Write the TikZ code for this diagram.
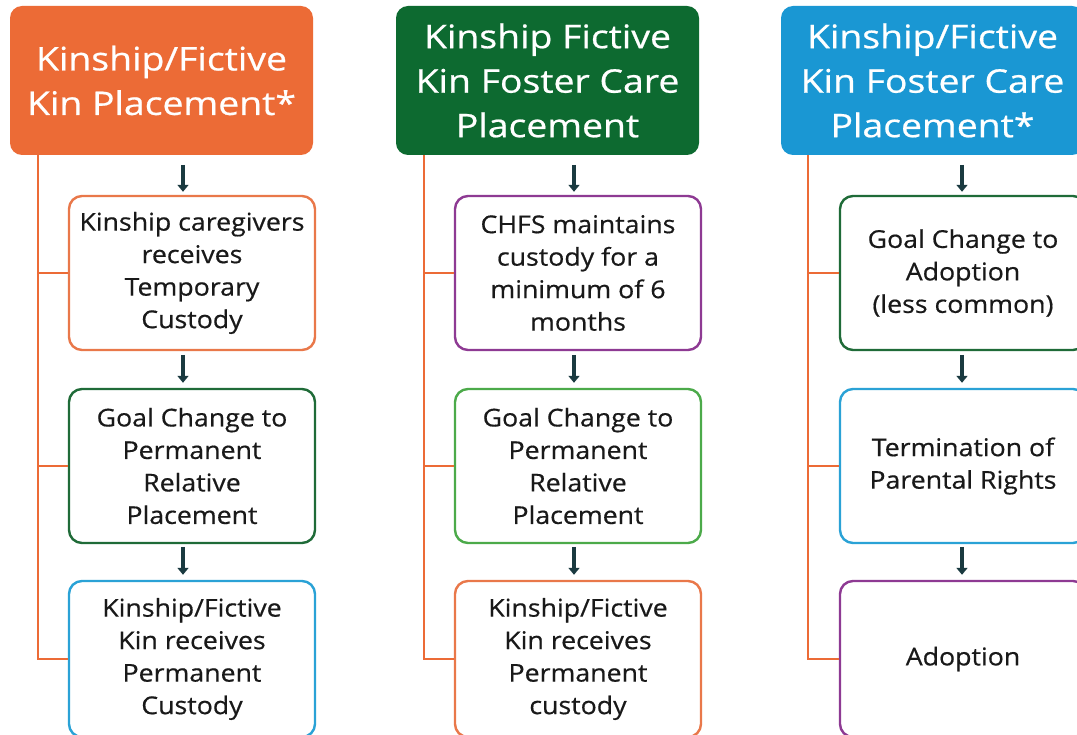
\documentclass[tikz,border=0pt]{standalone}
\usepackage{fontspec}
\setmainfont{Open Sans}
\newfontfamily\hfont{Open Sans}[FakeStretch=1.15, FakeBold=0.6]
\newfontfamily\bfont{Open Sans}[FakeStretch=1.09, FakeBold=0.5]
\usetikzlibrary{arrows.meta,calc}
\definecolor{horange}{HTML}{EC6B36}
\definecolor{hgreen}{HTML}{0D6A30}
\definecolor{hblue}{HTML}{1A97D3}
\definecolor{borange}{HTML}{E9784A}
\definecolor{bdgreen}{HTML}{1F6B38}
\definecolor{bblue}{HTML}{2AA2D6}
\definecolor{bpurple}{HTML}{8E3A93}
\definecolor{blgreen}{HTML}{4CAA4A}
\definecolor{arrowc}{HTML}{1A3A40}
\tikzset{
  header/.style={rounded corners=12pt, minimum width=303pt, minimum height=149pt, text=white, align=center,
    font=\hfont\fontsize{32.5}{44.5}\selectfont, inner sep=0pt},
  stepbox/.style={draw, line width=2.4pt, rounded corners=13pt, fill=white, minimum width=246pt, minimum height=154pt,
    align=center, font=\bfont\fontsize{24.5}{32.5}\selectfont, inner sep=0pt, text=black!90},
  tree/.style={draw=horange, line width=2.4pt},
  arr/.style={draw=arrowc, line width=3.6pt, -{Triangle[length=7pt,width=11pt]}}
}
\begin{document}
\begin{tikzpicture}[x=1pt,y=-1pt]
\useasboundingbox[fill=white] (0,0) rectangle (1077,735);
% column 1
\node[header, fill=horange] (h1) at (161.5,80.5) {Kinship/Fictive\\Kin Placement*};
\node[stepbox, draw=borange] (a1) at (192,273) {Kinship caregivers\\receives\\Temporary\\Custody};
\node[stepbox, draw=bdgreen] (a2) at (192,466) {Goal Change to\\Permanent\\Relative\\Placement};
\node[stepbox, draw=bblue, minimum height=156pt] (a3) at (192,659) {Kinship/Fictive\\Kin receives\\Permanent\\Custody};
% column 2
\node[header, fill=hgreen] (h2) at (547.5,80.5) {Kinship Fictive\\Kin Foster Care\\Placement};
\node[stepbox, draw=bpurple] (b1) at (578,273) {CHFS maintains\\custody for a\\minimum of 6\\months};
\node[stepbox, draw=blgreen] (b2) at (578,466) {Goal Change to\\Permanent\\Relative\\Placement};
\node[stepbox, draw=borange, minimum height=156pt] (b3) at (578,659) {Kinship/Fictive\\Kin receives\\Permanent\\custody};
% column 3
\node[header, fill=hblue] (h3) at (932.5,80.5) {Kinship/Fictive\\Kin Foster Care\\Placement*};
\node[stepbox, draw=bdgreen] (c1) at (963,273) {Goal Change to\\Adoption\\(less common)};
\node[stepbox, draw=bblue] (c2) at (963,466) {Termination of\\Parental Rights};
\node[stepbox, draw=bpurple, minimum height=156pt] (c3) at (963,659) {Adoption};
% tree lines
\foreach \h/\a/\b/\c/\x in {h1/a1/a2/a3/38, h2/b1/b2/b3/424, h3/c1/c2/c3/808}{
  \coordinate (top) at (\x,0 |- \h.south);
  \draw[tree] (top) -- (top |- \c.west) -- (\c.west);
  \draw[tree] (top |- \a.west) -- (\a.west);
  \draw[tree] (top |- \b.west) -- (\b.west);
}
% arrows
\foreach \h/\a/\b/\c/\dx in {h1/a1/a2/a3/-9, h2/b1/b2/b3/-4, h3/c1/c2/c3/-1}{
  \draw[arr] ($(\a.north)+(\dx,-30)$) -- ($(\a.north)+(\dx,-3)$);
  \draw[arr] ($(\b.north)+(\dx,-33)$) -- ($(\b.north)+(\dx,-5)$);
  \draw[arr] ($(\c.north)+(\dx,-33)$) -- ($(\c.north)+(\dx,-5)$);
}
\end{tikzpicture}
\end{document}
